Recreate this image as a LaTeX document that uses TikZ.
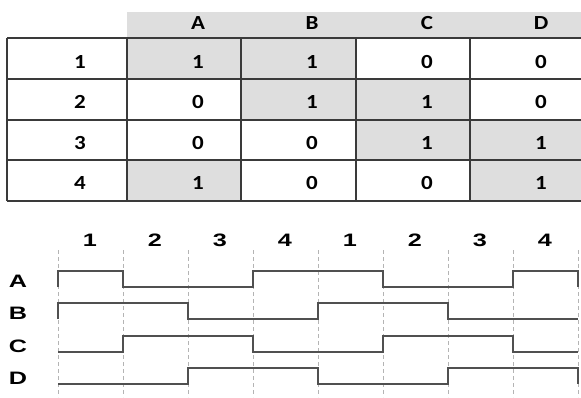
\documentclass[tikz,border=0pt]{standalone}
\usepackage{fontspec}
\newfontfamily\calibri{Carlito}
\newfontfamily\arial{Liberation Sans}
\usetikzlibrary{backgrounds}
\definecolor{cellgrey}{HTML}{DEDEDE}
\definecolor{rule}{HTML}{3A3A3A}
\definecolor{wavec}{HTML}{505050}
\definecolor{tickc}{HTML}{B4B4B4}

\begin{document}
\begin{tikzpicture}[x=1pt, y=-1pt,
    cell/.style={font=\calibri\bfseries\fontsize{20}{22}\selectfont, inner sep=0pt,
                 xscale=1.15, transform shape},
    sig/.style={font=\arial\bfseries\fontsize{18}{20}\selectfont, inner sep=0pt,
                xscale=1.4, transform shape},
    rulel/.style={draw=rule, line width=1.3pt},
    wave/.style={draw=wavec, line width=1.1pt},
    tick/.style={draw=tickc, line width=0.9pt, dash pattern=on 4pt off 3pt}]
  \useasboundingbox (0,0) rectangle (581,397);

  % table: header, shading, rules
  \fill[cellgrey] (127,12) rectangle (581,38);
  \foreach \c/\r in {127/1, 241/1, 241/2, 356/2, 356/3, 470/3, 127/4, 470/4} {
    \pgfmathsetmacro{\ytop}{{38,38,79,120,160}[\r]}
    \pgfmathsetmacro{\ybot}{{38,79,120,160,201}[\r]}
    \pgfmathsetmacro{\cr}{\c==470 ? 581 : (\c==356 ? 470 : (\c==241 ? 356 : 241))}
    \fill[cellgrey] (\c,\ytop) rectangle (\cr,\ybot);
  }
  \foreach \y in {38,79,120,160,201}
    \draw[rulel] (7,\y) -- (581,\y);
  \foreach \x in {7,127,241,356,470}
    \draw[rulel] (\x,38) -- (\x,201);

  \foreach \h/\x in {A/198, B/312, C/427, D/541}
    \node[cell] (h-\h) at (\x,23) {\h};
  \foreach \r/\y/\a/\b/\c/\d in {1/62/1/1/0/0, 2/102/0/1/1/0, 3/143/0/0/1/1, 4/183/1/0/0/1} {
    \node[cell] (r\r) at (80,\y) {\r};
    \node[cell] (r\r-A) at (198,\y) {\a};
    \node[cell] (r\r-B) at (312,\y) {\b};
    \node[cell] (r\r-C) at (427,\y) {\c};
    \node[cell] (r\r-D) at (541,\y) {\d};
  }

  % timing diagram
  \foreach \k in {0,...,8}
    \draw[tick] ({58+65*\k},250) -- ({58+65*\k},397);
  \foreach \n [count=\k] in {1,2,3,4,1,2,3,4}
    \node[sig] (t\k) at ({90+65*(\k-1)},240) {\n};
  \foreach \s/\yy/\bits in {A/271/{1,0,0,1,1,0,0,1}, B/303/{1,1,0,0,1,1,0,0},
                            C/336/{0,1,1,0,0,1,1,0}, D/368/{0,0,1,1,0,0,1,1}} {
    \node[sig] (s-\s) at (18,\yy+10) {\s};
    \draw[wave] (58,\yy+16)
      \foreach \b [count=\k] in \bits {
        -- ({58+65*(\k-1)},{\yy+16-16*\b}) -- ({58+65*\k},{\yy+16-16*\b})
      } -- (578,\yy+16);
  }
\end{tikzpicture}
\end{document}
